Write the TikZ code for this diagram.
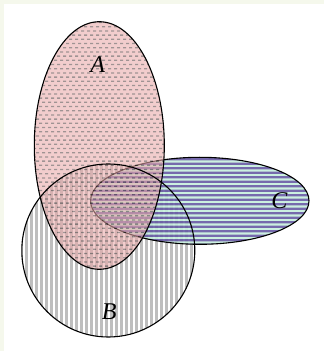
\documentclass[tikz,border=0pt]{standalone}
\usepackage{fontspec}
\setmainfont{Liberation Serif}
\definecolor{cream}{RGB}{245,248,236}
\definecolor{apink}{RGB}{234,170,170}
\definecolor{adot}{RGB}{90,70,70}
\definecolor{bgray}{RGB}{190,190,190}
\definecolor{cmint}{RGB}{196,238,220}
\definecolor{cpurp}{RGB}{100,86,162}
\tikzset{
  outline/.style={draw=black,line width=1.1pt},
  lbl/.style={font=\fontsize{24}{24}\selectfont\itshape},
}
\begin{document}
\begin{tikzpicture}[x=1pt,y=1pt]
\useasboundingbox (0,0) rectangle (324,351);
\fill[cream] (0,0) rectangle (324,351);
\fill[white] (4,0) rectangle (324,347);
% B stripes
\begin{scope}
\clip (108.3,100.5) circle[radius=86.5pt];
\foreach \x in {20,25,...,200} \fill[bgray] (\x,10) rectangle ++(2.5,185);
\end{scope}
% C fill
\begin{scope}[transparency group, opacity=0.88]
\clip (199.8,150.2) ellipse[x radius=109.2pt, y radius=43.5pt];
\fill[cmint] (88,104) rectangle (312,198);
\foreach \y in {105,109.5,...,198} \fill[cpurp] (88,\y) rectangle ++(224,2.3);
\end{scope}
\draw[outline] (199.8,150.2) ellipse[x radius=109.2pt, y radius=43.5pt];
% A fill
\begin{scope}[transparency group, opacity=0.58]
\clip (99.3,205.5) ellipse[x radius=65pt, y radius=123.8pt];
\fill[apink] (30,78) rectangle (170,334);
\foreach \i in {0,...,61} {
  \foreach \j in {0,...,24} {
    \pgfmathsetmacro{\xx}{30+6*\j+3*mod(\i,2)}
    \pgfmathsetmacro{\yy}{80+4.2*\i}
    \fill[adot] (\xx,\yy) rectangle ++(3.2,1.3);
  }
}
\end{scope}
\draw[outline] (99.3,205.5) ellipse[x radius=65pt, y radius=123.8pt];
\draw[outline] (108.3,100.5) circle[radius=86.5pt];
\node[lbl] (la) at (97.7,286) {A};
\node[lbl] (lb) at (109.3,39.3) {B};
\node[lbl] (lc) at (279.3,150) {C};
\end{tikzpicture}
\end{document}
